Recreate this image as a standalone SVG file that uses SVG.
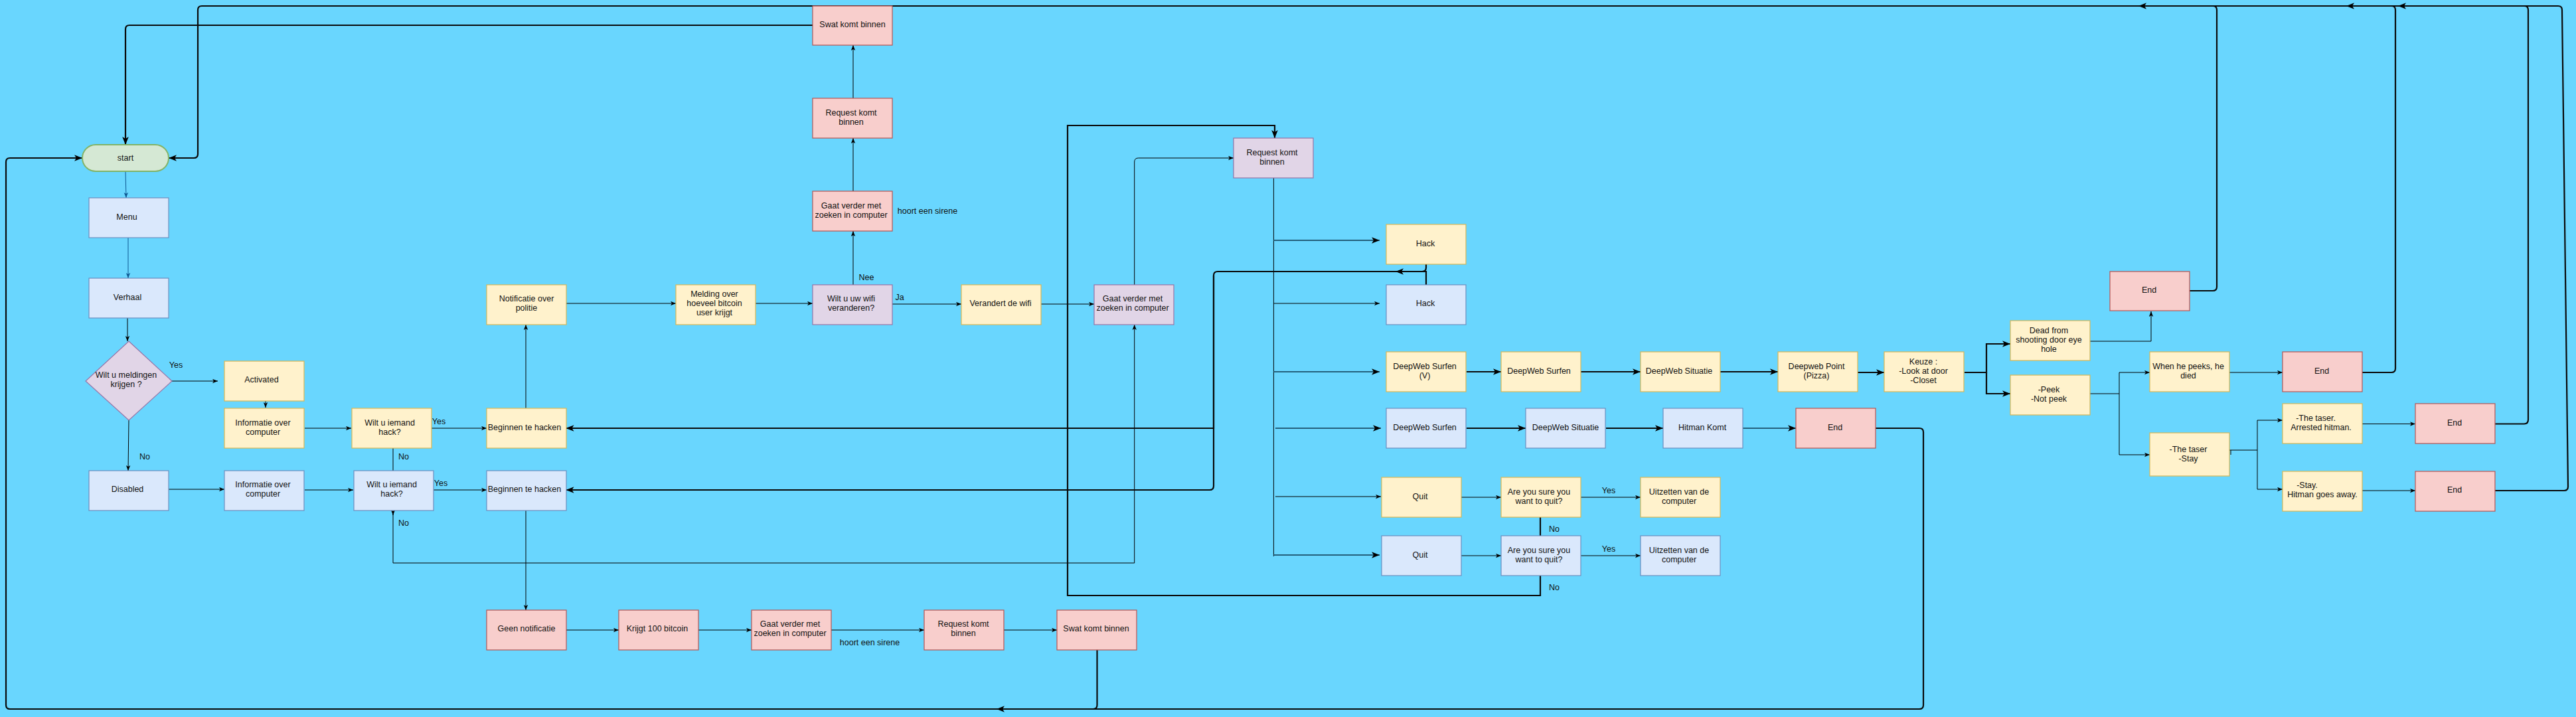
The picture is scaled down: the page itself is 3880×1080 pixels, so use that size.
<svg xmlns="http://www.w3.org/2000/svg" width="3880" height="1080" viewBox="0 0 3880 1080">
<style>
.y{fill:#fff2cc;stroke:#d6b656;stroke-width:1.2}
.b{fill:#dae8fc;stroke:#6c8ebf;stroke-width:1.2}
.p{fill:#f8cecc;stroke:#b85450;stroke-width:1.2}
.u{fill:#e1d5e7;stroke:#9673a6;stroke-width:1.2}
.g{fill:#d5e8d4;stroke:#82b366;stroke-width:2}
text{font-family:"Liberation Sans",Arial,sans-serif;font-size:12.5px;fill:#111;text-anchor:middle}
.e{fill:none;stroke:#000;stroke-width:1}
.eb{fill:none;stroke:#0f5a94;stroke-width:1}
.E{fill:none;stroke:#0a0a0a;stroke-width:2.2}
.T{fill:none;stroke:#24607c;stroke-width:2.2}
</style>
<defs>
<marker id="ms" viewBox="0 0 10 8" refX="10" refY="4" markerWidth="8" markerHeight="7" orient="auto" markerUnits="userSpaceOnUse"><path d="M0,0L10,4L0,8L2.5,4z" fill="#000"/></marker>
<marker id="mb" viewBox="0 0 10 8" refX="10" refY="4" markerWidth="8" markerHeight="7" orient="auto" markerUnits="userSpaceOnUse"><path d="M0,0L10,4L0,8L2.5,4z" fill="#0f5a94"/></marker>
<marker id="ml" viewBox="0 0 10 8" refX="10" refY="4" markerWidth="12" markerHeight="10" orient="auto" markerUnits="userSpaceOnUse"><path d="M0,0L10,4L0,8L2.5,4z" fill="#000"/></marker>
</defs>
<rect x="0" y="0" width="3880" height="1080" fill="#69d6fe"/>

<g id="connectors">
<path class="eb" d="M189,258L190,298" marker-end="url(#mb)"/>
<path class="eb" d="M193,358L193,419" marker-end="url(#mb)"/>
<path class="e" d="M192,479L192,514" marker-end="url(#ms)"/>
<path class="e" d="M259,574L328,574" marker-end="url(#ms)"/>
<path class="e" d="M194,633L193,709" marker-end="url(#ms)"/>
<path class="e" d="M400,604L400,614" marker-end="url(#ms)"/>
<path class="e" d="M459,645L529,645" marker-end="url(#ms)"/>
<path class="e" d="M650,645L733,645" marker-end="url(#ms)"/>
<path class="e" d="M592,675L592,776" marker-end="url(#ms)"/>
<path class="e" d="M592,768L592,848L1708.7,848L1708.7,489" marker-end="url(#ms)"/>
<path class="e" d="M254,737L338,737" marker-end="url(#ms)"/>
<path class="e" d="M459,738L532,738" marker-end="url(#ms)"/>
<path class="e" d="M653,738L733,738" marker-end="url(#ms)"/>
<path class="e" d="M792,615L792,489" marker-end="url(#ms)"/>
<path class="e" d="M792,768L792,919" marker-end="url(#ms)"/>
<path class="e" d="M852,457L1018,457" marker-end="url(#ms)"/>
<path class="e" d="M1138,457L1224,457" marker-end="url(#ms)"/>
<path class="e" d="M1285,429L1285,348" marker-end="url(#ms)"/>
<path class="e" d="M1285,288L1285,208" marker-end="url(#ms)"/>
<path class="e" d="M1285,148L1285,68" marker-end="url(#ms)"/>
<path class="e" d="M1344,458L1448,458" marker-end="url(#ms)"/>
<path class="e" d="M1568,458L1648,458" marker-end="url(#ms)"/>
<path class="e" d="M1708.7,429L1708.7,244Q1708.7,238 1714.7,238L1858,238" marker-end="url(#ms)"/>
<path class="e" d="M1918.4,268L1918.4,838"/>
<path class="e" d="M1918.4,457L2078,457" marker-end="url(#ms)"/>
<path class="e" d="M1921,748L2080,748" marker-end="url(#ms)"/>
<path class="e" d="M3148,514L3240,514L3240,469" marker-end="url(#ms)"/>
<path class="e" d="M3148,593L3192,593M3192,561L3192,685"/>
<path class="e" d="M3192,561L3238,561" marker-end="url(#ms)"/>
<path class="e" d="M3192,685L3238,685" marker-end="url(#ms)"/>
<path class="e" d="M3358,561L3438,561" marker-end="url(#ms)"/>
<path class="e" d="M3358,678L3400,678M3400,633L3400,737M3360,678L3360,685"/>
<path class="e" d="M3400,633L3438,633" marker-end="url(#ms)"/>
<path class="e" d="M3400,737L3438,737" marker-end="url(#ms)"/>
<path class="e" d="M3558,638.5L3638,638.5" marker-end="url(#ms)"/>
<path class="e" d="M3558,739L3638,739" marker-end="url(#ms)"/>
<path class="e" d="M2201,749L2261,749" marker-end="url(#ms)"/>
<path class="e" d="M2381,749L2471,749" marker-end="url(#ms)"/>
<path class="e" d="M2201,837L2261,837" marker-end="url(#ms)"/>
<path class="e" d="M2381,837L2471,837" marker-end="url(#ms)"/>
<path class="e" d="M852,949L932,949" marker-end="url(#ms)"/>
<path class="e" d="M1052,949L1132,949" marker-end="url(#ms)"/>
<path class="e" d="M1252,949L1392,949" marker-end="url(#ms)"/>
<path class="e" d="M1512,949L1592,949" marker-end="url(#ms)"/>

<path class="E" d="M1224,38L195,38Q189,38 189,44L189,218" marker-end="url(#ml)"/>
<path class="E" d="M3758,739L3862,739Q3868,739 3868,733L3859,15Q3859,9 3853,9L304,9Q298,9 298,15L298,232Q298,238 292,238L254,238" marker-end="url(#ml)"/>
<path class="E" d="M3298,438L3333,438Q3339,438 3339,432L3339,15Q3339,9 3333,9L3221,9" marker-end="url(#ml)"/>
<path class="E" d="M3558,561L3602,561Q3608,561 3608,555L3608,15Q3608,9 3602,9L3534,9" marker-end="url(#ml)"/>
<path class="E" d="M3758,638.5L3802,638.5Q3808,638.5 3808,632L3808,15Q3808,9 3802,9L3612,9" marker-end="url(#ml)"/>
<path class="E" d="M1652.5,978L1652.5,1062Q1652.5,1068 1646.5,1068L15,1068Q9,1068 9,1062L9,244Q9,238 15,238L124,238" marker-end="url(#ml)"/>
<path class="E" d="M2825,645L2891,645Q2897,645 2897,651L2897,1062Q2897,1068 2891,1068L1501,1068" marker-end="url(#ml)"/>
<path class="E" d="M2148,398L2148,403Q2148,409 2142,409L1834,409Q1828,409 1828,415L1828,645L852.5,645" marker-end="url(#ml)"/>
<path class="E" d="M2148,429L2148,409L2102,409" marker-end="url(#ml)"/>
<path class="E" d="M1828,415L1828,732Q1828,738 1822,738L852.5,738" marker-end="url(#ml)"/>
<path class="E" d="M2320,867L2320,897L1608,897L1608,189L1920,189L1920,208" marker-end="url(#ml)"/>
<path class="E" d="M2320,779L2320,807"/>
<path class="E" d="M2209,560L2261,560" marker-end="url(#ml)"/>
<path class="E" d="M2381,560L2471,560" marker-end="url(#ml)"/>
<path class="E" d="M2591,560L2678,560" marker-end="url(#ml)"/>
<path class="E" d="M2798,561L2838,561" marker-end="url(#ml)"/>
<path class="E" d="M2959,561L2992,561L2992,518L3028,518" marker-end="url(#ml)"/>
<path class="E" d="M2992,561L2992,593L3028,593" marker-end="url(#ml)"/>
<path class="E" d="M2209,645L2298,645" marker-end="url(#ml)"/>
<path class="E" d="M2419,645L2505,645" marker-end="url(#ml)"/>
<path class="T" d="M1918.4,362L2078,362" marker-end="url(#ml)"/>
<path class="T" d="M1918.4,560L2078,560" marker-end="url(#ml)"/>
<path class="T" d="M1921,645L2080,645" marker-end="url(#ml)"/>
<path class="T" d="M1918.4,836L2078,836" marker-end="url(#ml)"/>
<path class="T" d="M2625,645L2705,645" marker-end="url(#ml)"/>

<text x="265" y="554">Yes</text>
<text x="218" y="692">No</text>
<text x="661" y="639">Yes</text>
<text x="608" y="692">No</text>
<text x="664" y="732">Yes</text>
<text x="608" y="792">No</text>
<text x="1397" y="322">hoort een sirene</text>
<text x="1305" y="422">Nee</text>
<text x="1355" y="452">Ja</text>
<text x="1310" y="972">hoort een sirene</text>
<text x="2341" y="801">No</text>
<text x="2341" y="889">No</text>
<text x="2423" y="743">Yes</text>
<text x="2423" y="831">Yes</text>
</g>

<g id="n-start"><rect class="g" x="124" y="218" width="130" height="40" rx="20"/><text x="189" y="242">start</text></g>
<g id="n-menu"><rect class="b" x="134" y="298" width="120" height="60"/><text x="191" y="331">Menu</text></g>
<g id="n-verhaal"><rect class="b" x="134" y="419" width="120" height="60"/><text x="192" y="452">Verhaal</text></g>
<g id="n-meldingen"><path class="u" d="M194,514L259,574L194,633L129,574Z"/><text x="190" y="569">Wilt u meldingen</text><text x="190" y="583">krijgen ?</text></g>
<g id="n-activated"><rect class="y" x="338" y="544" width="120" height="60"/><text x="394" y="576">Activated</text></g>
<g id="n-info-y"><rect class="y" x="338" y="615" width="120" height="60"/><text x="396" y="641">Informatie over</text><text x="396" y="655">computer</text></g>
<g id="n-hack-q-y"><rect class="y" x="530" y="615" width="120" height="60"/><text x="587" y="641">Wilt u iemand</text><text x="587" y="655">hack?</text></g>
<g id="n-begin-y"><rect class="y" x="733" y="615" width="120" height="60"/><text x="790" y="648">Beginnen te hacken</text></g>
<g id="n-disabled"><rect class="b" x="134" y="709" width="120" height="60"/><text x="192" y="741">Disabled</text></g>
<g id="n-info-b"><rect class="b" x="338" y="709" width="120" height="60"/><text x="396" y="734">Informatie over</text><text x="396" y="748">computer</text></g>
<g id="n-hack-q-b"><rect class="b" x="533" y="709" width="120" height="60"/><text x="590" y="734">Wilt u iemand</text><text x="590" y="748">hack?</text></g>
<g id="n-begin-b"><rect class="b" x="733" y="709" width="120" height="60"/><text x="790" y="741">Beginnen te hacken</text></g>
<g id="n-notif"><rect class="y" x="733" y="429" width="120" height="60"/><text x="793" y="454">Notificatie over</text><text x="793" y="468">politie</text></g>
<g id="n-melding"><rect class="y" x="1018" y="429" width="120" height="60"/><text x="1076" y="447">Melding over</text><text x="1076" y="461">hoeveel bitcoin</text><text x="1076" y="475">user krijgt</text></g>
<g id="n-wifi"><rect class="u" x="1224" y="429" width="120" height="60"/><text x="1282" y="454">Wilt u uw wifi</text><text x="1282" y="468">veranderen?</text></g>
<g id="n-gaat-1"><rect class="p" x="1224" y="288" width="120" height="60"/><text x="1282" y="314">Gaat verder met</text><text x="1282" y="328">zoeken in computer</text></g>
<g id="n-request-1"><rect class="p" x="1224" y="148" width="120" height="60"/><text x="1282" y="174">Request komt</text><text x="1282" y="188">binnen</text></g>
<g id="n-swat-1"><rect class="p" x="1224" y="9" width="120" height="59"/><text x="1284" y="41">Swat komt binnen</text></g>
<g id="n-verandert"><rect class="y" x="1448" y="429" width="120" height="60"/><text x="1507" y="461">Verandert de wifi</text></g>
<g id="n-gaat-2"><rect class="u" x="1648" y="429" width="120" height="60"/><text x="1706" y="454">Gaat verder met</text><text x="1706" y="468">zoeken in computer</text></g>
<g id="n-request-2"><rect class="u" x="1858" y="208" width="120" height="60"/><text x="1916" y="234">Request komt</text><text x="1916" y="248">binnen</text></g>
<g id="n-hack-y"><rect class="y" x="2088" y="338" width="120" height="60"/><text x="2147" y="371">Hack</text></g>
<g id="n-hack-b"><rect class="b" x="2088" y="429" width="120" height="60"/><text x="2147" y="461">Hack</text></g>
<g id="n-dws-v"><rect class="y" x="2088" y="530" width="120" height="60"/><text x="2146" y="556">DeepWeb Surfen</text><text x="2146" y="570">(V)</text></g>
<g id="n-dws-y"><rect class="y" x="2261" y="530" width="120" height="60"/><text x="2318" y="563">DeepWeb Surfen</text></g>
<g id="n-dwsit-y"><rect class="y" x="2471" y="530" width="120" height="60"/><text x="2529" y="563">DeepWeb Situatie</text></g>
<g id="n-pizza"><rect class="y" x="2678" y="530" width="120" height="60"/><text x="2736" y="556">Deepweb Point</text><text x="2736" y="570">(Pizza)</text></g>
<g id="n-keuze"><rect class="y" x="2838" y="530" width="120" height="60"/><text x="2897" y="549">Keuze :</text><text x="2897" y="563">-Look at door</text><text x="2897" y="577">-Closet</text></g>
<g id="n-dead"><rect class="y" x="3028" y="483" width="120" height="60"/><text x="3086" y="502">Dead from</text><text x="3086" y="516">shooting  door eye</text><text x="3086" y="530">hole</text></g>
<g id="n-peek"><rect class="y" x="3028" y="565" width="120" height="60"/><text x="3086" y="591">-Peek</text><text x="3086" y="605">-Not peek</text></g>
<g id="n-end-top"><rect class="p" x="3178" y="409" width="120" height="59"/><text x="3237" y="441">End</text></g>
<g id="n-peeks-died"><rect class="y" x="3238" y="530" width="120" height="60"/><text x="3296" y="556">When he peeks, he</text><text x="3296" y="570">died</text></g>
<g id="n-end-died"><rect class="p" x="3438" y="530" width="120" height="60"/><text x="3497" y="563">End</text></g>
<g id="n-taser-stay"><rect class="y" x="3238" y="652" width="120" height="65"/><text x="3296" y="681">-The taser</text><text x="3296" y="695">-Stay</text></g>
<g id="n-arrested"><rect class="y" x="3438" y="608" width="120" height="60"/><text x="3488" y="634">-The taser.</text><text x="3496" y="648"> Arrested hitman.</text></g>
<g id="n-goes-away"><rect class="y" x="3438" y="710" width="120" height="60"/><text x="3475" y="735">-Stay.</text><text x="3498" y="749">Hitman goes away.</text></g>
<g id="n-end-arrested"><rect class="p" x="3638" y="608" width="120" height="60"/><text x="3697" y="641">End</text></g>
<g id="n-end-away"><rect class="p" x="3638" y="710" width="120" height="60"/><text x="3697" y="742">End</text></g>
<g id="n-dws-b"><rect class="b" x="2088" y="615" width="120" height="60"/><text x="2146" y="648">DeepWeb Surfen</text></g>
<g id="n-dwsit-b"><rect class="b" x="2298" y="615" width="120" height="60"/><text x="2358" y="648">DeepWeb Situatie</text></g>
<g id="n-hitman"><rect class="b" x="2505" y="615" width="120" height="60"/><text x="2564" y="648">Hitman Komt</text></g>
<g id="n-end-hitman"><rect class="p" x="2705" y="615" width="120" height="60"/><text x="2764" y="648">End</text></g>
<g id="n-quit-y"><rect class="y" x="2081" y="719" width="120" height="60"/><text x="2139" y="752">Quit</text></g>
<g id="n-sure-y"><rect class="y" x="2261" y="719" width="120" height="60"/><text x="2318" y="745">Are you sure you</text><text x="2318" y="759">want to quit?</text></g>
<g id="n-off-y"><rect class="y" x="2471" y="719" width="120" height="60"/><text x="2529" y="745">Uitzetten van de</text><text x="2529" y="759">computer</text></g>
<g id="n-quit-b"><rect class="b" x="2081" y="807" width="120" height="60"/><text x="2139" y="840">Quit</text></g>
<g id="n-sure-b"><rect class="b" x="2261" y="807" width="120" height="60"/><text x="2318" y="833">Are you sure you</text><text x="2318" y="847">want to quit?</text></g>
<g id="n-off-b"><rect class="b" x="2471" y="807" width="120" height="60"/><text x="2529" y="833">Uitzetten van de</text><text x="2529" y="847">computer</text></g>
<g id="n-geen"><rect class="p" x="733" y="919" width="120" height="60"/><text x="793" y="951">Geen notificatie</text></g>
<g id="n-krijgt"><rect class="p" x="932" y="919" width="120" height="60"/><text x="990" y="951">Krijgt 100 bitcoin</text></g>
<g id="n-gaat-3"><rect class="p" x="1132" y="919" width="120" height="60"/><text x="1190" y="944">Gaat verder met</text><text x="1190" y="958">zoeken in computer</text></g>
<g id="n-request-3"><rect class="p" x="1392" y="919" width="120" height="60"/><text x="1451" y="944">Request komt</text><text x="1451" y="958">binnen</text></g>
<g id="n-swat-3"><rect class="p" x="1592" y="919" width="120" height="60"/><text x="1651" y="951">Swat komt binnen</text></g>
</svg>
